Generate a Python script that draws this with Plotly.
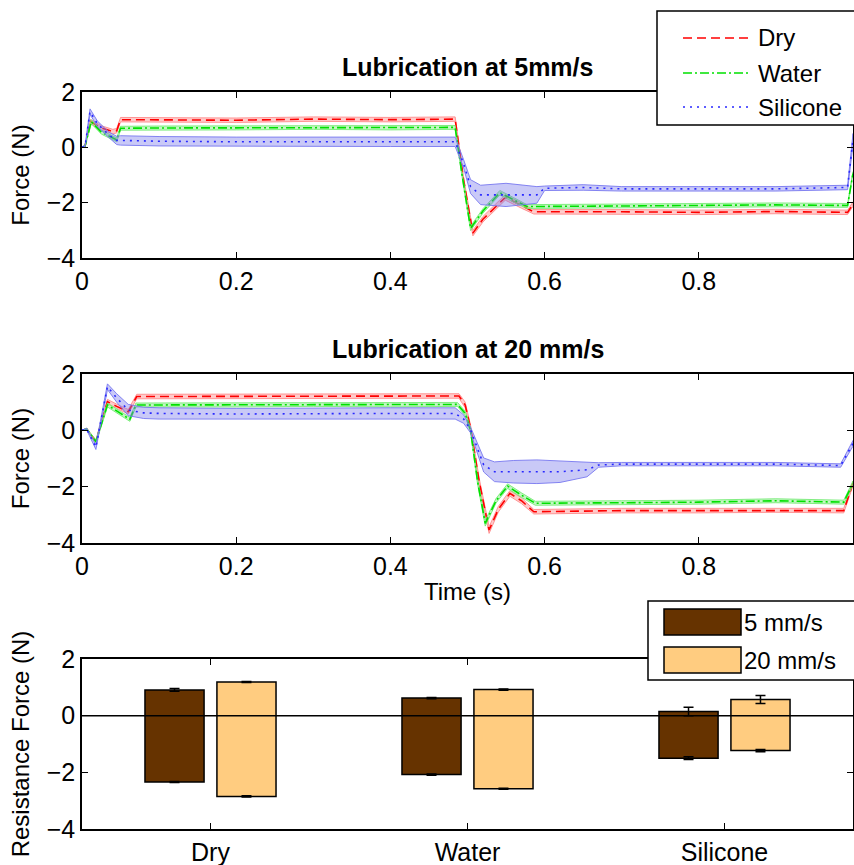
import plotly.graph_objects as go

# ---------------- data: 5 mm/s ----------------
t_dry5 = [0, 0.004, 0.011, 0.025, 0.04, 0.045, 0.05, 0.1, 0.2, 0.3, 0.4, 0.484, 0.495, 0.507, 0.52, 0.549, 0.57, 0.586, 0.7, 0.8, 0.9, 0.993, 1.0]
f_dry5 = [0, 0.05, 0.93, 0.7, 0.57, 0.6, 1.0, 1.0, 0.98, 1.02, 1.0, 1.02, -1.2, -3.1, -2.6, -1.81, -2.1, -2.33, -2.33, -2.35, -2.32, -2.35, -2.05]
s_dry5 = [0, 0.02, 0.08, 0.08, 0.08, 0.08, 0.08, 0.08, 0.08, 0.08, 0.08, 0.08, 0.1, 0.1, 0.1, 0.1, 0.1, 0.08, 0.08, 0.08, 0.08, 0.08, 0.08]

t_wat5 = [0, 0.004, 0.012, 0.025, 0.045, 0.05, 0.1, 0.2, 0.3, 0.4, 0.484, 0.493, 0.504, 0.52, 0.542, 0.56, 0.577, 0.7, 0.8, 0.9, 0.993, 1.0]
f_wat5 = [0, 0.05, 0.93, 0.55, 0.27, 0.69, 0.7, 0.7, 0.72, 0.7, 0.72, -1.0, -2.93, -2.3, -1.64, -1.9, -2.14, -2.12, -2.1, -2.08, -2.1, -0.95]
s_wat5 = [0, 0.02, 0.07, 0.07, 0.07, 0.07, 0.07, 0.07, 0.07, 0.07, 0.07, 0.08, 0.08, 0.08, 0.08, 0.08, 0.07, 0.07, 0.07, 0.07, 0.07, 0.07]

t_sil5 = [0, 0.004, 0.0104, 0.02, 0.035, 0.045, 0.05, 0.1, 0.2, 0.3, 0.4, 0.484, 0.495, 0.504, 0.517, 0.55, 0.59, 0.6, 0.65, 0.7, 0.8, 0.9, 0.993, 1.0]
f_sil5 = [0, 0.05, 1.29, 0.85, 0.45, 0.25, 0.25, 0.22, 0.2, 0.2, 0.2, 0.2, -0.6, -1.42, -1.72, -1.72, -1.72, -1.48, -1.45, -1.5, -1.5, -1.5, -1.45, 0.3]
s_sil5 = [0, 0.02, 0.1, 0.1, 0.1, 0.15, 0.17, 0.17, 0.17, 0.17, 0.17, 0.17, 0.15, 0.25, 0.35, 0.42, 0.3, 0.08, 0.1, 0.08, 0.08, 0.08, 0.08, 0.2]

# ---------------- data: 20 mm/s ----------------
t_dry20 = [0, 0.006, 0.018, 0.033, 0.045, 0.06, 0.071, 0.1, 0.2, 0.3, 0.4, 0.489, 0.497, 0.504, 0.515, 0.528, 0.54, 0.555, 0.57, 0.586, 0.7, 0.8, 0.9, 0.988, 1.0]
f_dry20 = [0, 0.05, -0.4, 1.02, 0.85, 0.66, 1.2, 1.2, 1.2, 1.22, 1.22, 1.22, 0.9, 0.08, -1.8, -3.54, -2.8, -2.24, -2.5, -2.89, -2.85, -2.85, -2.83, -2.85, -1.88]
s_dry20 = [0, 0.02, 0.06, 0.08, 0.08, 0.08, 0.08, 0.08, 0.08, 0.08, 0.08, 0.08, 0.1, 0.1, 0.12, 0.12, 0.1, 0.1, 0.1, 0.08, 0.08, 0.08, 0.08, 0.08, 0.08]

t_wat20 = [0, 0.006, 0.018, 0.033, 0.05, 0.062, 0.07, 0.1, 0.2, 0.3, 0.4, 0.487, 0.497, 0.504, 0.513, 0.523, 0.537, 0.552, 0.57, 0.588, 0.7, 0.8, 0.9, 0.988, 1.0]
f_wat20 = [0, 0.05, -0.4, 0.9, 0.6, 0.39, 0.9, 0.9, 0.9, 0.92, 0.9, 0.92, 0.6, 0.0, -1.8, -3.3, -2.5, -1.98, -2.3, -2.59, -2.57, -2.55, -2.5, -2.55, -1.87]
s_wat20 = [0, 0.02, 0.06, 0.07, 0.07, 0.07, 0.07, 0.07, 0.07, 0.07, 0.07, 0.07, 0.08, 0.08, 0.1, 0.1, 0.08, 0.08, 0.08, 0.07, 0.07, 0.07, 0.07, 0.07, 0.07]

t_sil20 = [0, 0.006, 0.018, 0.033, 0.045, 0.06, 0.08, 0.1, 0.2, 0.3, 0.4, 0.484, 0.495, 0.504, 0.521, 0.535, 0.56, 0.59, 0.62, 0.655, 0.67, 0.7, 0.8, 0.9, 0.984, 1.0]
f_sil20 = [0, 0.05, -0.6, 1.55, 1.15, 0.72, 0.62, 0.6, 0.58, 0.6, 0.6, 0.6, 0.4, 0.01, -1.23, -1.47, -1.47, -1.47, -1.47, -1.4, -1.23, -1.2, -1.2, -1.2, -1.25, -0.46]
s_sil20 = [0, 0.03, 0.08, 0.1, 0.15, 0.2, 0.2, 0.2, 0.2, 0.2, 0.2, 0.2, 0.15, 0.1, 0.25, 0.35, 0.4, 0.42, 0.38, 0.25, 0.08, 0.06, 0.06, 0.06, 0.06, 0.1]

# ---------------- data: resistance force bars ----------------
categories = ["Dry", "Water", "Silicone"]
speeds = ["5 mm/s", "20 mm/s"]
pos_5 = [0.91, 0.62, 0.15]
neg_5 = [-2.34, -2.08, -1.50]
pos_20 = [1.19, 0.92, 0.57]
neg_20 = [-2.85, -2.58, -1.23]
errpos_5 = [0.05, 0.02, 0.15]
errneg_5 = [0.02, 0.02, 0.05]
errpos_20 = [0.02, 0.02, 0.14]
errneg_20 = [0.02, 0.02, 0.04]

series_names = ["Dry", "Water", "Silicone"]
x_ticks = [0, 0.2, 0.4, 0.6, 0.8, 1]
y_ticks = [-4, -2, 0, 2]

# ---------------- styles ----------------
FONT = "Liberation Sans"
line_col = {"Dry": "rgb(255,0,0)", "Water": "rgb(0,225,0)", "Silicone": "rgb(40,40,255)"}
band_fill = {"Dry": "rgba(255,140,140,0.45)", "Water": "rgba(120,235,120,0.45)", "Silicone": "rgba(120,120,235,0.40)"}
band_edge = {"Dry": "rgba(255,140,140,0.9)", "Water": "rgba(120,235,120,0.9)", "Silicone": "rgba(120,120,240,0.9)"}
dash = {"Dry": "9px,5px", "Water": "9px,3px,2px,3px", "Silicone": "2px,5px"}

fig = go.Figure()


def add_series(t, f, s, name, xa, ya):
    upper = [a + b for a, b in zip(f, s)]
    lower = [a - b for a, b in zip(f, s)]
    fig.add_trace(go.Scatter(
        x=list(t) + list(t)[::-1], y=upper + lower[::-1], fill="toself",
        fillcolor=band_fill[name], line=dict(color=band_edge[name], width=1),
        mode="lines", hoverinfo="skip", showlegend=False, xaxis=xa, yaxis=ya))
    fig.add_trace(go.Scatter(
        x=t, y=f, mode="lines", name=name, showlegend=False,
        line=dict(color=line_col[name], width=1.6, dash=dash[name]),
        xaxis=xa, yaxis=ya))


for (t, f, s), nm in zip([(t_dry5, f_dry5, s_dry5), (t_wat5, f_wat5, s_wat5), (t_sil5, f_sil5, s_sil5)], series_names):
    add_series(t, f, s, nm, "x", "y")
for (t, f, s), nm in zip([(t_dry20, f_dry20, s_dry20), (t_wat20, f_wat20, s_wat20), (t_sil20, f_sil20, s_sil20)], series_names):
    add_series(t, f, s, nm, "x2", "y2")

# bars
cat_pos = [1, 2, 3]
bar_cols = ["#663300", "#FFCC80"]
bar_w = 0.23
offsets = [-0.255, 0.025]
for pos, neg, ep, en, col, off, nm in [
        (pos_5, neg_5, errpos_5, errneg_5, bar_cols[0], offsets[0], speeds[0]),
        (pos_20, neg_20, errpos_20, errneg_20, bar_cols[1], offsets[1], speeds[1])]:
    fig.add_trace(go.Bar(
        x=cat_pos, y=[p - n for p, n in zip(pos, neg)], base=neg, name=nm,
        width=bar_w, offset=off, marker=dict(color=col, line=dict(color="black", width=1.5)),
        showlegend=False, xaxis="x3", yaxis="y3"))
    xc = [c + off + bar_w / 2 for c in cat_pos]
    fig.add_trace(go.Scatter(
        x=xc + xc, y=pos + neg, mode="markers", marker=dict(size=1, color="black"),
        error_y=dict(type="data", array=ep + en, color="black", thickness=1.5, width=5),
        showlegend=False, hoverinfo="skip", xaxis="x3", yaxis="y3"))

# ---------------- layout ----------------
tickfont = dict(family=FONT, size=25, color="black")
axis_common = dict(showline=True, linecolor="black", linewidth=1.5, mirror="ticks",
                   ticks="inside", ticklen=6, tickwidth=1.2, tickcolor="black",
                   showgrid=False, zeroline=False, tickfont=tickfont, automargin=False)

xdom = [82 / 854, 853 / 854]
H = 865.0
dom_top = [1 - 258 / H, 1 - 92 / H]
dom_mid = [1 - 543 / H, 1 - 374 / H]
dom_bar = [1 - 829 / H, 1 - 659 / H]

title_y = dict(text="Force (N)", font=dict(family=FONT, size=24, color="black"), standoff=10)

fig.update_layout(
    width=854, height=865, margin=dict(l=0, r=0, t=0, b=0, autoexpand=False),
    paper_bgcolor="white", plot_bgcolor="white", showlegend=False,
    font=dict(family=FONT, color="black"),
    xaxis=dict(domain=xdom, range=[0, 1], tickvals=x_ticks, anchor="y", **axis_common),
    yaxis=dict(domain=dom_top, range=[-4, 2], tickvals=y_ticks, anchor="x", title=title_y, **axis_common),
    xaxis2=dict(domain=xdom, range=[0, 1], tickvals=x_ticks, anchor="y2",
                title=dict(text="Time (s)", font=dict(family=FONT, size=24, color="black"), standoff=4),
                **axis_common),
    yaxis2=dict(domain=dom_mid, range=[-4, 2], tickvals=y_ticks, anchor="x2", title=title_y, **axis_common),
    xaxis3=dict(domain=xdom, range=[0.5, 3.5], tickvals=cat_pos, ticktext=categories, anchor="y3", **axis_common),
    yaxis3=dict(domain=dom_bar, range=[-4, 2], tickvals=y_ticks, anchor="x3",
                title=dict(text="Resistance Force (N)", font=dict(family=FONT, size=24, color="black"), standoff=10),
                **axis_common),
)

shapes = []
annotations = []
# zero line on bar chart
shapes.append(dict(type="line", xref="x3 domain", yref="y3", x0=0, x1=1, y0=0, y1=0,
                   line=dict(color="black", width=1.5), layer="above"))

# titles
annotations.append(dict(text="<b>Lubrication at 5mm/s</b>", xref="paper", yref="paper",
                        x=(xdom[0] + xdom[1]) / 2, y=1 - 67 / H, showarrow=False,
                        font=dict(family=FONT, size=25, color="black"), xanchor="center", yanchor="middle"))
annotations.append(dict(text="<b>Lubrication at 20 mm/s</b>", xref="paper", yref="paper",
                        x=(xdom[0] + xdom[1]) / 2, y=1 - 349 / H, showarrow=False,
                        font=dict(family=FONT, size=25, color="black"), xanchor="center", yanchor="middle"))

# legend 1 (lines)
shapes.append(dict(type="rect", xref="paper", yref="paper", x0=657 / 854, x1=1.02, y0=1 - 125 / H, y1=1 - 11 / H,
                   fillcolor="white", line=dict(color="black", width=1.5), layer="above"))
for nm, ypx in zip(series_names, [38, 73, 107]):
    shapes.append(dict(type="line", xref="paper", yref="paper", x0=683 / 854, x1=750 / 854,
                       y0=1 - ypx / H, y1=1 - ypx / H,
                       line=dict(color=line_col[nm], width=1.6, dash=dash[nm]), layer="above"))
    annotations.append(dict(text=nm, xref="paper", yref="paper", x=756 / 854, y=1 - ypx / H,
                            showarrow=False, xanchor="left", yanchor="middle",
                            font=dict(family=FONT, size=24, color="black")))

# legend 2 (bars)
shapes.append(dict(type="rect", xref="paper", yref="paper", x0=648 / 854, x1=1.02, y0=1 - 680 / H, y1=1 - 601 / H,
                   fillcolor="white", line=dict(color="black", width=1.5), layer="above"))
for nm, col, (ya, yb) in zip(speeds, bar_cols, [(609, 635), (647, 673)]):
    shapes.append(dict(type="rect", xref="paper", yref="paper", x0=664 / 854, x1=741 / 854,
                       y0=1 - yb / H, y1=1 - ya / H, fillcolor=col,
                       line=dict(color="black", width=1.5), layer="above"))
    annotations.append(dict(text=nm, xref="paper", yref="paper", x=742 / 854, y=1 - (ya + yb) / 2 / H,
                            showarrow=False, xanchor="left", yanchor="middle",
                            font=dict(family=FONT, size=24, color="black")))

fig.update_layout(shapes=shapes, annotations=annotations)
fig.write_html("out.html", config={"displayModeBar": False},
               post_script="document.body.style.margin='0px';document.body.style.overflow='hidden';")
